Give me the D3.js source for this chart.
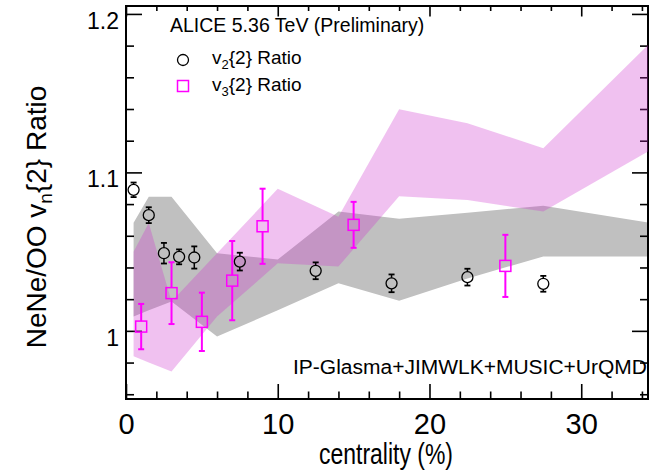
<!DOCTYPE html>
<html>
<head>
<meta charset="utf-8">
<script src="https://cdn.jsdelivr.net/npm/d3@7"></script>
<style>
  html, body { margin: 0; padding: 0; background: #fff; }
  svg { display: block; }
  text { font-family: "Liberation Sans", Arial, Helvetica, sans-serif; fill: #000; }
</style>
</head>
<body>
<svg id="chart" width="671" height="475"></svg>
<script>
// ---- data ----
const centV2   = [0.5, 1.5, 2.5, 3.5, 4.5, 7.5, 12.5, 17.5, 22.5, 27.5];
const v2Ratio  = [1.089, 1.073, 1.049, 1.0467, 1.0463, 1.0437, 1.0379, 1.030, 1.0339, 1.0297];
const v2Err    = [0.0046, 0.005, 0.0065, 0.0047, 0.007, 0.0056, 0.0053, 0.0056, 0.0053, 0.005];

const centV3   = [1, 3, 5, 7, 9, 15, 25];
const v3Ratio  = [1.0027, 1.0238, 1.0057, 1.0317, 1.066, 1.0669, 1.041];
const v3Err    = [0.0143, 0.0195, 0.0184, 0.025, 0.0237, 0.0145, 0.0196];

const modelCent   = [0.5, 1.5, 3, 6, 10, 14, 18, 22.5, 27.5, 35];
const v2ModelLow  = [1.009, 1.013, 1.0185, 0.9964, 1.013, 1.030, 1.019, 1.033, 1.047, 1.047];
const v2ModelHigh = [1.0683, 1.0847, 1.0847, 1.049, 1.045, 1.0753, 1.0707, 1.0746, 1.079, 1.0674];
const v3ModelLow  = [0.984, 0.980, 0.9744, 1.009, 1.0426, 1.0406, 1.085, 1.0826, 1.0753, 1.1164];
const v3ModelHigh = [1.050, 1.068, 1.0185, 1.049, 1.0896, 1.072, 1.1398, 1.131, 1.1153, 1.186];

const xMajorTicks = [0, 10, 20, 30];
const xMinorTicks = [2, 4, 6, 8, 12, 14, 16, 18, 22, 24, 26, 28, 32, 34];
const yMajorTicks = [1.0, 1.1, 1.2];
const yMinorTicks = [0.96, 0.98, 1.02, 1.04, 1.06, 1.08, 1.12, 1.14, 1.16, 1.18];

const legendLabels = ["2", "3"];

// ---- layout ----
const L = 126, R = 648, T = 6, B = 399;
const svg = d3.select("#chart");
const x = d3.scaleLinear().domain([0, 34.4]).range([L, R]);
const y = d3.scaleLinear().domain([0.957, 1.205]).range([B, T]);

svg.append("rect").attr("width", 671).attr("height", 475).attr("fill", "#fff");

svg.append("clipPath").attr("id", "plotclip")
  .append("rect").attr("x", L).attr("y", T).attr("width", R - L).attr("height", B - T);

const area = (lo, hi) => d3.area()
  .x((d, i) => x(modelCent[i]))
  .y0((d, i) => y(lo[i]))
  .y1((d, i) => y(hi[i]));

// grey band (v2 model)
svg.append("path")
  .attr("clip-path", "url(#plotclip)")
  .attr("d", area(v2ModelLow, v2ModelHigh)(modelCent))
  .attr("fill", "#c0c0c0");

// ---- axes ----
function styleAxis(g) {
  g.select(".domain").remove();
  g.selectAll(".tick line").attr("stroke", "#000").attr("stroke-width", 1.6);
}
// left
svg.append("g").attr("transform", `translate(${L},0)`)
  .call(d3.axisLeft(y).tickValues(yMajorTicks).tickSizeInner(-16).tickSizeOuter(0).tickPadding(7)
    .tickFormat(d => d === 1 ? "1" : d3.format(".1f")(d)))
  .call(styleAxis)
  .call(g => g.selectAll(".tick text").attr("font-size", 23).attr("dy", "0.62em")
     .style("font-family", "'Liberation Sans', Arial, sans-serif"));
svg.append("g").attr("transform", `translate(${L},0)`)
  .call(d3.axisLeft(y).tickValues(yMinorTicks).tickSize(-8).tickFormat(""))
  .call(styleAxis);
// right
svg.append("g").attr("transform", `translate(${R},0)`)
  .call(d3.axisRight(y).tickValues(yMajorTicks).tickSize(-16).tickFormat(""))
  .call(styleAxis);
svg.append("g").attr("transform", `translate(${R},0)`)
  .call(d3.axisRight(y).tickValues(yMinorTicks).tickSize(-8).tickFormat(""))
  .call(styleAxis);
// bottom
svg.append("g").attr("transform", `translate(0,${B})`)
  .call(d3.axisBottom(x).tickValues(xMajorTicks).tickSizeInner(-15).tickSizeOuter(0).tickPadding(14)
    .tickFormat(d3.format("d")))
  .call(styleAxis)
  .call(g => g.selectAll(".tick text").attr("font-size", 29).attr("dy", "0.72em")
     .style("font-family", "'Liberation Sans Narrow', 'Liberation Sans', Arial, sans-serif"));
svg.append("g").attr("transform", `translate(0,${B})`)
  .call(d3.axisBottom(x).tickValues(xMinorTicks).tickSize(-7.5).tickFormat(""))
  .call(styleAxis);
// top
svg.append("g").attr("transform", `translate(0,${T})`)
  .call(d3.axisTop(x).tickValues(xMajorTicks).tickSize(-10.5).tickFormat(""))
  .call(styleAxis);
svg.append("g").attr("transform", `translate(0,${T})`)
  .call(d3.axisTop(x).tickValues(xMinorTicks).tickSize(-5).tickFormat(""))
  .call(styleAxis);

// frame
svg.append("rect").attr("x", L).attr("y", T).attr("width", R - L).attr("height", B - T)
  .attr("fill", "none").attr("stroke", "#000").attr("stroke-width", 2);

// pink band (v3 model), translucent, drawn over frame
svg.append("path")
  .attr("clip-path", "url(#plotclip)")
  .attr("d", area(v3ModelLow, v3ModelHigh)(modelCent))
  .attr("fill", "rgb(204,51,204)").attr("fill-opacity", 0.3);

// ---- data points ----
const rC = 5.5, halfS = 5.5, cap = 3;
// v2 error bars (outside marker)
const gV2 = svg.append("g");
centV2.forEach((c, i) => {
  const cx = x(c), cy = y(v2Ratio[i]), yt = y(v2Ratio[i] + v2Err[i]), yb = y(v2Ratio[i] - v2Err[i]);
  if (cy - yt > rC) gV2.append("line").attr("x1", cx).attr("x2", cx).attr("y1", cy - rC).attr("y2", yt)
     .attr("stroke", "#000").attr("stroke-width", 1.5);
  if (yb - cy > rC) gV2.append("line").attr("x1", cx).attr("x2", cx).attr("y1", cy + rC).attr("y2", yb)
     .attr("stroke", "#000").attr("stroke-width", 1.5);
  [yt, yb].forEach(yy => gV2.append("line").attr("x1", cx - cap).attr("x2", cx + cap).attr("y1", yy).attr("y2", yy)
     .attr("stroke", "#000").attr("stroke-width", 1.8));
  gV2.append("circle").attr("cx", cx).attr("cy", cy).attr("r", rC)
     .attr("fill", "none").attr("stroke", "#000").attr("stroke-width", 1.3);
});
// v3
const gV3 = svg.append("g");
const mag = "#ff00ff";
centV3.forEach((c, i) => {
  const cx = x(c), cy = y(v3Ratio[i]), yt = y(v3Ratio[i] + v3Err[i]), yb = y(v3Ratio[i] - v3Err[i]);
  gV3.append("line").attr("x1", cx).attr("x2", cx).attr("y1", cy - halfS).attr("y2", yt)
     .attr("stroke", mag).attr("stroke-width", 2);
  gV3.append("line").attr("x1", cx).attr("x2", cx).attr("y1", cy + halfS).attr("y2", yb)
     .attr("stroke", mag).attr("stroke-width", 2);
  [yt, yb].forEach(yy => gV3.append("line").attr("x1", cx - cap).attr("x2", cx + cap).attr("y1", yy).attr("y2", yy)
     .attr("stroke", mag).attr("stroke-width", 2));
  gV3.append("rect").attr("x", cx - halfS).attr("y", cy - halfS).attr("width", 2 * halfS).attr("height", 2 * halfS)
     .attr("fill", "none").attr("stroke", mag).attr("stroke-width", 1.5);
});

// ---- texts ----
svg.append("text").attr("x", 170).attr("y", 32).attr("font-size", 19.5)
  .text("ALICE 5.36 TeV (Preliminary)");

// legend
svg.append("circle").attr("cx", 183).attr("cy", 60).attr("r", rC)
  .attr("fill", "none").attr("stroke", "#000").attr("stroke-width", 1.3);
svg.append("rect").attr("x", 183 - halfS).attr("y", 86 - halfS).attr("width", 2 * halfS).attr("height", 2 * halfS)
  .attr("fill", "none").attr("stroke", mag).attr("stroke-width", 1.5);
legendLabels.forEach((n, i) => {
  const t = svg.append("text").attr("x", 212).attr("y", 64 + i * 26.5).attr("font-size", 19);
  t.append("tspan").text("v");
  t.append("tspan").attr("dy", 5).attr("font-size", 13).text(n);
  t.append("tspan").attr("dy", -5).text("{2} Ratio");
});

svg.append("text").attr("x", 647).attr("y", 374).attr("font-size", 20)
  .attr("text-anchor", "end").attr("textLength", 354).attr("lengthAdjust", "spacingAndGlyphs")
  .text("IP-Glasma+JIMWLK+MUSIC+UrQMD");

// axis titles
svg.append("text").attr("x", 386).attr("y", 464).attr("font-size", 30)
  .attr("text-anchor", "middle").attr("textLength", 134).attr("lengthAdjust", "spacingAndGlyphs")
  .text("centrality (%)");

const yt = svg.append("text").attr("transform", "translate(46,217) rotate(-90)")
  .attr("font-size", 28).attr("text-anchor", "middle");
yt.append("tspan").text("NeNe/OO v");
yt.append("tspan").attr("dy", 6).attr("font-size", 19).text("n");
yt.append("tspan").attr("dy", -6).text("{2} Ratio");
</script>
</body>
</html>
